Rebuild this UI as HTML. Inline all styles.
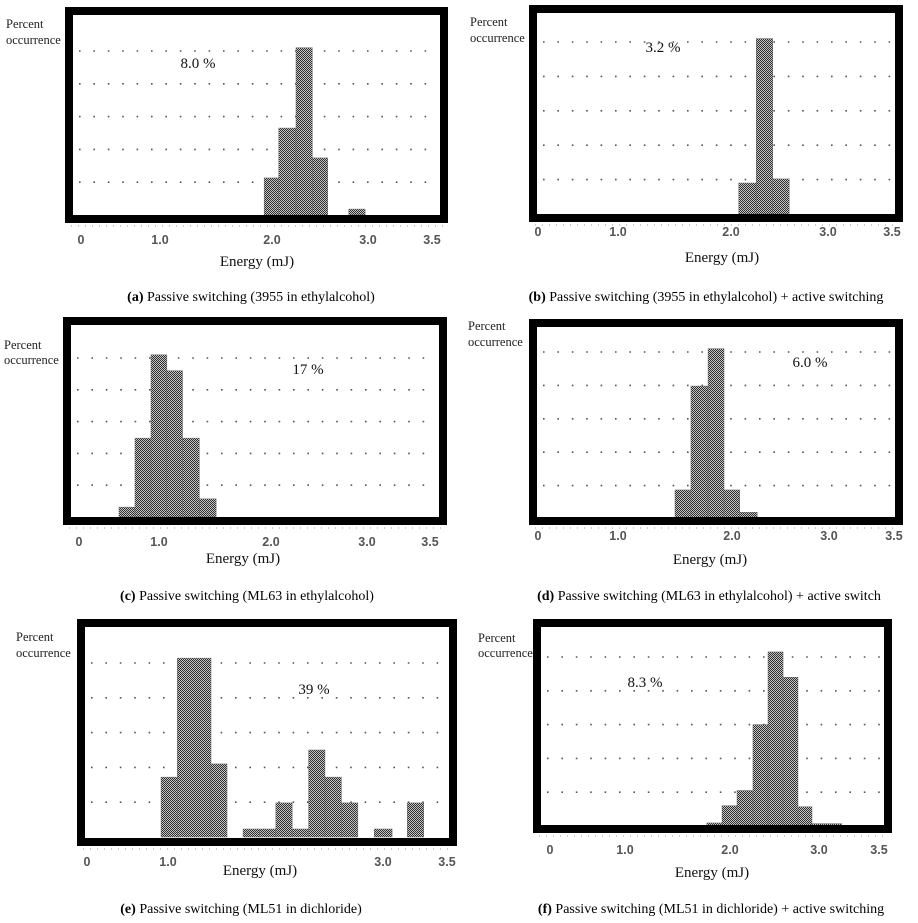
<!DOCTYPE html>
<html><head><meta charset="utf-8">
<style>
html,body{margin:0;padding:0;background:#fff;}
svg{display:block;}
.cap{font-family:"Liberation Serif",serif;font-size:14px;fill:#000;}
.ax{font-family:"Liberation Serif",serif;font-size:15px;fill:#111;}
.pc{font-family:"Liberation Serif",serif;font-size:12.5px;fill:#222;}
.tk{font-family:"Liberation Sans",sans-serif;font-size:12.5px;font-weight:bold;fill:#555;}
.pl{font-family:"Liberation Serif",serif;font-size:15px;fill:#111;}
</style></head>
<body>
<svg id="fig" width="918" height="923" viewBox="0 0 918 923" xmlns="http://www.w3.org/2000/svg">
<defs>
<pattern id="chk" width="2" height="2" patternUnits="userSpaceOnUse">
<rect width="2" height="2" fill="#c4c4c4"/>
<rect width="1" height="1" fill="#2e2e2e"/>
<rect x="1" y="1" width="1" height="1" fill="#2e2e2e"/>
</pattern>
</defs>
</svg>
<script>
// ---- data (energy in mJ, heights in grid units) ----
const tickValsStd = [0, 1.0, 2.0, 3.0, 3.5];
const tickLabelsStd = ["0", "1.0", "2.0", "3.0", "3.5"];
const tickValsE = [0, 1.0, 3.0, 3.5];
const tickLabelsE = ["0", "1.0", "3.0", "3.5"];

const aLeft = [1.93, 2.07, 2.25, 2.42, 2.80];
const aRight = [2.07, 2.25, 2.42, 2.58, 2.97];
const aHeight = [1.13, 2.65, 5.1, 1.74, 0.18];

const bLeft = [2.08, 2.26, 2.43];
const bRight = [2.26, 2.43, 2.60];
const bHeight = [0.9, 5.1, 1.02];

const cLeft = [0.5, 0.7, 0.9, 1.07, 1.21, 1.36];
const cRight = [0.7, 0.9, 1.07, 1.21, 1.36, 1.51];
const cHeight = [0.31, 2.48, 5.1, 4.6, 2.48, 0.57];

const dLeft = [1.5, 1.64, 1.79, 1.93, 2.08];
const dRight = [1.64, 1.79, 1.93, 2.08, 2.26];
const dHeight = [0.87, 3.98, 5.1, 0.87, 0.2];

const eLeft = [0.914, 1.087, 1.40, 1.698, 1.85, 2.003, 2.155, 2.308, 2.46, 2.613, 2.918, 3.19];
const eRight = [1.087, 1.40, 1.549, 1.85, 2.003, 2.155, 2.308, 2.46, 2.613, 2.766, 3.071, 3.318];
const eHeight = [1.72, 5.14, 2.1, 0.23, 0.23, 0.98, 0.23, 2.5, 1.72, 0.98, 0.23, 0.98];

const fLeft = [1.78, 1.924, 2.079, 2.258, 2.427, 2.596, 2.764, 2.921];
const fRight = [1.924, 2.079, 2.258, 2.427, 2.596, 2.764, 2.921, 3.19];
const fHeight = [0.09, 0.6, 1.05, 3.0, 5.15, 4.4, 0.57, 0.07];

const pctLabels = ["8.0 %", "3.2 %", "17 %", "6.0 %", "39 %", "8.3 %"];

// ---- layout ----
const panels = [
 {id:"a", frame:[65,7,448,223], base:215, unit:32.8, px:[81,160,272,368,432], tv:tickValsStd, tl:tickLabelsStd, tickY:240, xl:[257,262], cap:[251,297], capB:"(a)", capT:" Passive switching (3955 in ethylalcohol)", pcX:6, pcY:[24,40], pl:[198,64], L:aLeft,R:aRight,H:aHeight},
 {id:"b", frame:[529,5,903,222], base:214, unit:34.4, px:[538,618,731,828,892], tv:tickValsStd, tl:tickLabelsStd, tickY:232, xl:[722,258], cap:[706,297], capB:"(b)", capT:" Passive switching (3955 in ethylalcohol) + active switching", pcX:470, pcY:[22,38], pl:[663,48], L:bLeft,R:bRight,H:bHeight},
 {id:"c", frame:[63,317,447,525], base:517, unit:31.8, px:[79,159,271,367,430], tv:tickValsStd, tl:tickLabelsStd, tickY:542, xl:[243,559], cap:[247,596], capB:"(c)", capT:" Passive switching (ML63 in ethylalcohol)", pcX:4, pcY:[345,360], pl:[308,370], L:cLeft,R:cRight,H:cHeight},
 {id:"d", frame:[529,319,903,525], base:519, unit:33.4, px:[538,618,732,829,894], tv:tickValsStd, tl:tickLabelsStd, tickY:536, xl:[710,560], cap:[709,596], capB:"(d)", capT:" Passive switching (ML63 in ethylalcohol) + active switch", pcX:468, pcY:[326,342], pl:[810,363], L:dLeft,R:dRight,H:dHeight},
 {id:"e", frame:[77,619,457,846], base:837, unit:34.8, px:[87,168,383,447], tv:tickValsE, tl:tickLabelsE, tickY:862, xl:[260,871], cap:[241,909], capB:"(e)", capT:" Passive switching (ML51 in dichloride)", pcX:16, pcY:[637,653], pl:[314,690], L:eLeft,R:eRight,H:eHeight},
 {id:"f", frame:[533,619,892,833], base:826, unit:33.8, px:[550,625,730,819,879], tv:tickValsStd, tl:tickLabelsStd, tickY:850, xl:[712,873], cap:[711,909], capB:"(f)", capT:" Passive switching (ML51 in dichloride) + active switching", pcX:478, pcY:[638,653], pl:[645,683], L:fLeft,R:fRight,H:fHeight}
];

const NS = "http://www.w3.org/2000/svg";
const fig = document.getElementById("fig");
function mk(tag, attrs, parent){
  const el = document.createElementNS(NS, tag);
  for (const k in attrs) el.setAttribute(k, attrs[k]);
  (parent||fig).appendChild(el);
  return el;
}
function makeX(tv, px){
  return function(v){
    let i = 0;
    while (i < tv.length - 2 && v > tv[i+1]) i++;
    return px[i] + (v - tv[i]) * (px[i+1] - px[i]) / (tv[i+1] - tv[i]);
  };
}

panels.forEach(function(p, pi){
  const g = mk("g", {});
  
  
  const x = makeX(p.tv, p.px);
  const y = function(h){ return p.base - h * p.unit; };
  const f = p.frame;
  for (let k = 1; k <= 5; k++){
    const ln = mk("line", {x1:f[0]+14, x2:f[2]-12, y1:y(k), y2:y(k), stroke:"#555", "stroke-width":1.6, "stroke-dasharray":"1.6 12.8"}, g);
    
    
  }
  for (let i = 0; i < p.H.length; i++){
    const x0 = x(p.L[i]), x1 = x(p.R[i]);
    const r = mk("rect", {x:x0, y:y(p.H[i]), width:Math.max(0.5, x1-x0), height:p.base - y(p.H[i]), fill:"url(#chk)", stroke:"#666", "stroke-width":0.5}, g);
    
    
  }
  const fr = mk("rect", {x:f[0]+4, y:f[1]+4, width:f[2]-f[0]-8, height:f[3]-f[1]-8, fill:"none", stroke:"#000", "stroke-width":8}, g);
  
  
  const ax = mk("line", {x1:f[0]+6, x2:f[2]-4, y1:f[3]+3, y2:f[3]+3, stroke:"#999", "stroke-width":1, "stroke-dasharray":"1 6"}, g);
  
  
  for (let i = 0; i < p.tv.length; i++){
    const t = mk("text", {x:x(p.tv[i]), y:p.tickY, "text-anchor":"middle", "dominant-baseline":"central", class:"tk"}, g);
    t.textContent = p.tl[i];
    
    
  }
  const xt = mk("text", {x:p.xl[0], y:p.xl[1], "text-anchor":"middle", "dominant-baseline":"central", class:"ax"}, g);
  xt.textContent = "Energy (mJ)";
  
  
  const y1t = mk("text", {x:p.pcX, y:p.pcY[0], "dominant-baseline":"central", class:"pc"}, g);
  y1t.textContent = "Percent";
  
  
  const y2t = mk("text", {x:p.pcX, y:p.pcY[1], "dominant-baseline":"central", class:"pc"}, g);
  y2t.textContent = "occurrence";
  
  
  const pl = mk("text", {x:p.pl[0], y:p.pl[1], "text-anchor":"middle", "dominant-baseline":"central", class:"pl"}, g);
  pl.textContent = pctLabels[pi];
  
  
  const cp = mk("text", {x:p.cap[0], y:p.cap[1], "text-anchor":"middle", "dominant-baseline":"central", class:"cap"}, g);
  
  
  const cb = mk("tspan", {"font-weight":"bold"}, cp);
  cb.textContent = p.capB;
  const ct = mk("tspan", {}, cp);
  ct.textContent = p.capT;
});
</script>
</body></html>
